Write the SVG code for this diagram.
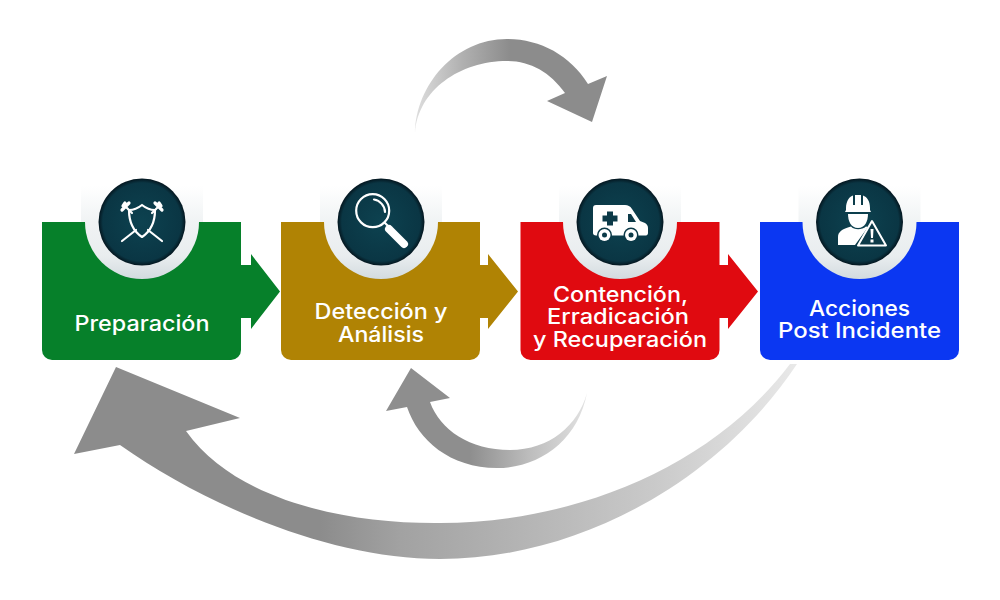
<svg xmlns="http://www.w3.org/2000/svg" xmlns:xlink="http://www.w3.org/1999/xlink" width="1000" height="600" viewBox="0 0 1000 600">
<style>
.lbl{font-family:"Inter","Open Sans","Liberation Sans",sans-serif;font-size:21px;font-weight:500;fill:#fff;text-anchor:middle}
.ico{fill:#fff}
.line{fill:none;stroke:#fff;stroke-width:2.2;stroke-linecap:round;stroke-linejoin:round}
.guard{fill:none;stroke:#fff;stroke-width:3.200;stroke-linecap:round}
.dk{fill:#0c3a48}
</style>
<defs>
<linearGradient id="gLarge" gradientUnits="userSpaceOnUse" x1="320" y1="0" x2="795" y2="0">
<stop offset="0" stop-color="#8c8c8c"/><stop offset=".17" stop-color="#a2a2a2"/><stop offset=".48" stop-color="#b8b8b8"/><stop offset=".72" stop-color="#cbcbcb"/><stop offset="1" stop-color="#e8e8e8"/>
</linearGradient>
<linearGradient id="gTop" gradientUnits="userSpaceOnUse" x1="415" y1="0" x2="510" y2="0">
<stop offset="0" stop-color="#dedede"/><stop offset=".5" stop-color="#b0b0b0"/><stop offset="1" stop-color="#8c8c8c"/>
</linearGradient>
<linearGradient id="gBot" gradientUnits="userSpaceOnUse" x1="587" y1="0" x2="470" y2="0">
<stop offset="0" stop-color="#e2e2e2"/><stop offset=".5" stop-color="#bcbcbc"/><stop offset="1" stop-color="#8e8e8e"/>
</linearGradient>
<linearGradient id="gHalo" x1="0" y1="0" x2="0" y2="1">
<stop offset="0" stop-color="#f0f3f4"/><stop offset=".6" stop-color="#e9edef"/><stop offset="1" stop-color="#d3dbdf"/>
</linearGradient>
<linearGradient id="gHaloTop" x1="0" y1="0" x2="0" y2="1">
<stop offset="0" stop-color="#ffffff"/><stop offset="1" stop-color="#f0f3f4"/>
</linearGradient>
<radialGradient id="gDisc">
<stop offset="0" stop-color="#0d4250"/><stop offset=".9" stop-color="#0a3644"/><stop offset="1" stop-color="#04161f"/>
</radialGradient>
<path id="box" d="M0 0H199V128a10 10 0 0 1-10 10H10a10 10 0 0 1-10-10Z"/>
<g id="badge">
<path d="M-57 0A57 57 0 0 0 57 0Z" fill="url(#gHalo)"/>
<path d="M-61 0H61V-36H-61Z" fill="url(#gHaloTop)"/>
<circle r="43.500" fill="url(#gDisc)"/>
</g>
</defs>
<rect width="1000" height="600" fill="#fff"/>
<g id="connectors">
<path d="M415 133C416 85 455 39 507 39C540 39 570 55 588 84L607 76L592 122L547 101L565 93C550 72 530 61 507 61C460 61 418 90 415 133Z" fill="url(#gTop)"/>
<path d="M411 368L450 398L430 402C440 430 470 450 510 450C550 450 578 425 587 393C578 440 540 468 497 468C450 468 418 440 407 407L386 411Z" fill="url(#gBot)"/>
<path d="M116 367L240 418L186 431C235 500 345 524 440 523C570 523 710 470 790 364L797 364C720 480 580 559 440 559C330 559 205 505 120 445L74 454Z" fill="url(#gLarge)"/>
<path d="M241 265H251V254L280 291.500L251 329V318H241Z" fill="#06802a"/>
<path d="M480 265H488V254L518 291.500L488 329V318H480Z" fill="#b08304"/>
<path d="M719 265H728V254L758 291.500L728 329V318H719Z" fill="#e00a10"/>
</g>
<g id="node-preparacion">
<use xlink:href="#box" href="#box" x="42" y="222" fill="#06802a"/>
<use xlink:href="#badge" href="#badge" x="142" y="222"/>
<path class="line" d="M142 205C137 209 132 210 129 210C129 222 133 231 142 237C151 231 155 222 155 210C152 210 147 209 142 205Z"/>
<path class="line" d="M126 207L132 213M122 241L136 230M158 207L152 213M162 241L148 230"/>
<path class="guard" d="M122 210L129 203M125 203L123 206M162 210L155 203M159 203L161 206"/>
<text class="lbl" x="142" y="331" textLength="135" lengthAdjust="spacingAndGlyphs">Preparación</text>
</g>
<g id="node-deteccion">
<use xlink:href="#box" href="#box" x="281" y="222" fill="#b08304"/>
<use xlink:href="#badge" href="#badge" x="381" y="222"/>
<circle class="line" cx="372.700" cy="210.700" r="16.500"/>
<path class="line" d="M374 199.500C380 200.500 385 206 385 212"/>
<path class="line" d="M385 223L389 227"/>
<path d="M389 229L404 244" fill="none" stroke="#fff" stroke-width="8" stroke-linecap="round"/>
<text class="lbl"><tspan x="381" y="319" textLength="133" lengthAdjust="spacingAndGlyphs">Detección y</tspan><tspan x="381" y="342" textLength="86" lengthAdjust="spacingAndGlyphs">Análisis</tspan></text>
</g>
<g id="node-contencion">
<use xlink:href="#box" href="#box" x="520.500" y="222" fill="#e00a10"/>
<use xlink:href="#badge" href="#badge" x="620" y="222"/>
<path class="ico" d="M596 205H625C628 205 630 206 632 209L640 221L645 223C647 224 648 226 648 228V233C648 234.500 647 235.500 646 235.500H596C594 235.500 593 234.500 593 233V208C593 206 594 205 596 205Z"/>
<path class="dk" d="M628 214H631L636 222H628Z"/>
<path class="dk" d="M607 211.500H613V215.500H617.500V221.500H613V225.500H607V221.500H602.500V215.500H607Z"/>
<g class="dk"><circle cx="604.500" cy="235" r="7.500"/><circle cx="631" cy="235" r="7.500"/></g>
<g class="ico"><circle cx="604.500" cy="235" r="6"/><circle cx="631" cy="235" r="6"/></g>
<g class="dk"><circle cx="604.500" cy="235" r="2.500"/><circle cx="631" cy="235" r="2.500"/></g>
<text class="lbl"><tspan x="620.500" y="302" textLength="135" lengthAdjust="spacingAndGlyphs">Contención,</tspan><tspan x="618" y="324" textLength="142" lengthAdjust="spacingAndGlyphs">Erradicación</tspan><tspan x="620" y="347" textLength="174" lengthAdjust="spacingAndGlyphs">y Recuperación</tspan></text>
</g>
<g id="node-acciones">
<use xlink:href="#box" href="#box" x="760" y="222" fill="#0b37f2"/>
<use xlink:href="#badge" href="#badge" x="859.500" y="222"/>
<path class="ico" d="M846 210V208C846 201 850 196 853 195.500V205H855V195H861V205H863V195.500C867 197 870 201 870 208V210L871 212H845Z"/>
<path class="ico" d="M848 214H868C868 221 865 228 858 228C851 228 848 221 848 214Z"/>
<path class="ico" d="M838 245V237C838 232 842 229 851 226.500C854 230 862 230 866 226.500L868 227L855 245Z"/>
<path d="M872 221L886 245.500H858Z" class="dk" stroke="#fff" stroke-width="2" stroke-linejoin="round"/>
<path class="ico" d="M870.500 229H873.500L873 238H871ZM870.500 239.500H873.500V242.500H870.500Z"/>
<text class="lbl"><tspan x="859.500" y="316" textLength="101" lengthAdjust="spacingAndGlyphs">Acciones</tspan><tspan x="859.500" y="338" textLength="163" lengthAdjust="spacingAndGlyphs">Post Incidente</tspan></text>
</g>
</svg>
